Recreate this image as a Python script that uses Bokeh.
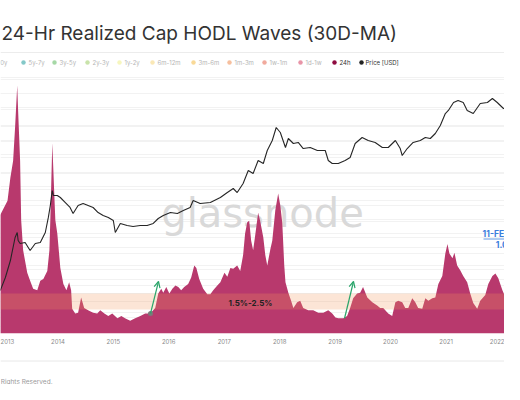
import pandas as pd
from bokeh.plotting import figure
from bokeh.layouts import column
from bokeh.models import (Range1d, LogScale, FixedTicker, DatetimeTickFormatter,
                          Grid, Arrow, OpenHead)
from bokeh.core.properties import value
from bokeh.embed import file_html
from bokeh.resources import INLINE

# ---------------- data ----------------
TITLE = "24-Hr Realized Cap HODL Waves (30D-MA)"

legend_labels = ["7y-10y", "5y-7y", "3y-5y", "2y-3y", "1y-2y", "6m-12m", "3m-6m",
                 "1m-3m", "1w-1m", "1d-1w", "24h", "Price [USD]"]
legend_colors = ["#3b6fb0", "#1f9a9a", "#5cb85c", "#9ccc65", "#eeee88", "#f6d57a",
                 "#f4b942", "#ef8b4f", "#e5654d", "#d63c5e", "#8e0b3f", "#222222"]
legend_active = [False] * 10 + [True, True]

year_ticks = list(range(2013, 2023))

band_low = 1.5
band_high = 2.5

wave_dates = [
    "2012-12-17", "2013-02-03", "2013-02-22", "2013-03-12", "2013-03-25", "2013-04-08", "2013-04-14",
    "2013-04-27", "2013-05-04", "2013-05-17", "2013-06-13", "2013-07-02", "2013-07-22", "2013-08-18",
    "2013-09-07", "2013-09-27", "2013-10-23", "2013-11-06", "2013-11-12", "2013-11-25", "2013-12-08",
    "2013-12-15", "2013-12-28",
    "2014-01-17", "2014-02-06", "2014-02-26", "2014-03-16", "2014-03-29", "2014-04-05", "2014-04-25",
    "2014-05-14", "2014-06-03", "2014-06-23", "2014-07-19", "2014-08-21", "2014-09-17", "2014-10-07",
    "2014-11-03", "2014-11-29", "2014-12-25",
    "2015-01-28", "2015-02-23", "2015-03-19", "2015-04-22", "2015-05-25", "2015-06-28", "2015-07-30",
    "2015-09-01", "2015-10-04", "2015-10-24", "2015-11-13", "2015-11-26", "2015-12-16",
    "2016-01-05", "2016-01-25", "2016-02-14", "2016-03-04", "2016-03-23", "2016-04-12", "2016-05-08",
    "2016-05-28", "2016-06-17", "2016-07-01", "2016-07-20", "2016-08-15", "2016-09-11", "2016-10-01",
    "2016-10-20", "2016-11-16", "2016-12-06",
    "2017-01-02", "2017-01-21", "2017-02-10", "2017-03-01", "2017-03-27", "2017-04-16", "2017-05-05",
    "2017-05-18", "2017-06-01", "2017-06-14", "2017-06-27", "2017-07-10", "2017-07-23", "2017-08-12",
    "2017-08-25", "2017-09-15", "2017-09-28", "2017-10-11", "2017-11-01", "2017-11-13", "2017-12-03",
    "2017-12-22",
    "2018-01-05", "2018-01-18", "2018-01-31", "2018-02-08", "2018-02-27", "2018-03-17", "2018-04-01",
    "2018-04-26", "2018-05-16", "2018-06-05", "2018-07-08", "2018-08-10", "2018-09-12", "2018-10-15",
    "2018-11-17", "2018-12-13",
    "2019-01-03", "2019-01-22", "2019-02-24", "2019-03-21", "2019-04-10", "2019-04-30", "2019-05-26",
    "2019-06-15", "2019-07-04", "2019-08-01", "2019-09-03", "2019-10-05", "2019-10-25", "2019-11-14",
    "2019-12-17",
    "2020-01-12", "2020-02-02", "2020-02-21", "2020-03-18", "2020-04-07", "2020-04-27", "2020-05-23",
    "2020-06-12", "2020-07-01", "2020-07-28", "2020-08-17", "2020-09-06", "2020-10-02", "2020-10-22",
    "2020-11-11", "2020-12-07", "2020-12-27",
    "2021-01-10", "2021-01-23", "2021-02-12", "2021-02-25", "2021-03-15", "2021-04-04", "2021-04-24",
    "2021-05-20", "2021-06-09", "2021-06-29", "2021-07-25", "2021-08-14", "2021-09-16", "2021-10-06",
    "2021-11-02", "2021-11-22", "2021-12-11",
    "2022-01-07", "2022-01-27", "2022-02-28", "2022-04-01", "2022-05-04",
]
wave_24h_pct = [
    7.4, 8.3, 9.75, 10.8, 12.9, 15.5, 13.9, 10.8, 7.1, 5.2, 3.8, 3.3, 2.8, 2.7, 3.3, 3.4, 3.9, 5.2, 7.1,
    11.9, 8.75, 7.1, 6.25,
    4.1, 3.1, 2.7, 3.2, 2.7, 1.55, 1.25, 1.3, 2.25, 1.6, 1.45, 1.3, 1.25, 1.45, 1.25, 1.1, 1.25,
    0.95, 1.1, 0.95, 0.8, 0.95, 1.1, 1.25, 1.25, 1.6, 2.5, 2.8, 2.55, 2.9,
    2.5, 2.8, 3.0, 2.9, 2.7, 2.9, 3.1, 3.5, 4.25, 4.1, 3.4, 2.8, 2.45, 2.45, 2.7, 3.0, 3.2,
    3.8, 3.55, 4.1, 4.05, 4.25, 3.9, 4.9, 6.25, 6.95, 7.05, 5.8, 5.2, 6.1, 7.55, 7.05, 6.0, 4.9, 4.25,
    5.3, 5.8, 7.7, 8.75,
    8.0, 6.9, 4.25, 3.2, 2.55, 2.05, 1.6, 1.95, 2.05, 1.6, 1.45, 1.45, 1.3, 1.3, 1.45, 1.25,
    1.0, 0.95, 0.95, 1.1, 1.6, 2.2, 2.5, 2.55, 2.9, 2.25, 1.95, 1.75, 1.6, 1.6, 1.25,
    1.1, 1.95, 2.05, 1.95, 1.6, 1.6, 2.2, 1.95, 1.6, 1.55, 2.2, 2.05, 2.2, 2.25, 3.1, 3.6, 5.0,
    5.6, 5.0, 4.7, 5.05, 4.25, 3.95, 3.6, 3.2, 2.5, 1.9, 1.55, 2.05, 2.4, 3.1, 3.6, 3.75, 3.45,
    2.7, 2.25, 2.4, 2.7, 2.4,
]

price_dates = [
    "2012-12-17", "2013-01-20", "2013-02-22", "2013-03-25", "2013-04-08", "2013-04-14", "2013-04-27",
    "2013-05-30", "2013-07-02", "2013-08-05", "2013-09-07", "2013-10-10", "2013-10-30", "2013-11-12",
    "2013-11-25", "2013-12-02", "2013-12-28",
    "2014-01-17", "2014-02-19", "2014-03-22", "2014-04-11", "2014-05-14", "2014-06-16", "2014-07-19",
    "2014-08-21", "2014-09-23", "2014-10-26", "2014-11-29",
    "2015-01-01", "2015-01-14", "2015-02-16", "2015-04-02", "2015-05-11", "2015-06-27", "2015-08-12",
    "2015-09-21", "2015-10-24", "2015-11-26",
    "2016-01-12", "2016-02-27", "2016-04-06", "2016-05-21", "2016-06-10", "2016-07-26", "2016-10-01",
    "2016-12-06",
    "2017-01-21", "2017-03-01", "2017-03-27", "2017-05-05", "2017-06-08", "2017-07-10", "2017-08-12",
    "2017-09-15", "2017-10-11", "2017-11-13", "2017-12-09",
    "2018-01-05", "2018-02-08", "2018-02-27", "2018-04-01", "2018-05-03", "2018-06-05", "2018-07-21",
    "2018-09-06", "2018-10-28", "2018-11-17", "2018-12-13",
    "2019-01-22", "2019-03-08", "2019-04-10", "2019-05-13", "2019-06-28", "2019-08-07", "2019-09-22",
    "2019-11-08", "2019-12-17",
    "2020-02-02", "2020-03-05", "2020-03-18", "2020-04-20", "2020-05-29", "2020-07-15", "2020-08-17",
    "2020-09-19", "2020-10-22", "2020-11-24", "2020-12-27",
    "2021-01-16", "2021-02-19", "2021-03-21", "2021-04-24", "2021-05-20", "2021-06-29", "2021-08-14",
    "2021-09-30", "2021-11-02", "2021-12-04",
    "2022-01-14", "2022-02-28", "2022-04-15", "2022-05-04",
]
price_usd = [
    5.9, 11.3, 26.2, 81.9, 105, 70.6, 60.8, 64, 43, 60.8, 64, 105, 221, 400, 840, 656, 656,
    594, 463, 362, 269, 400, 441, 400, 362, 282, 244, 221,
    190, 105, 164, 148, 141, 148, 148, 164, 210, 244,
    282, 269, 312, 362, 512, 441, 463, 594,
    760, 927, 760, 1188, 2260, 1950, 3707, 3200, 6080, 9980, 19000,
    14830, 7060, 11020, 8610, 9060, 6710, 7060, 6080, 6080, 3707, 3200,
    3200, 3707, 4300, 8610, 11590, 9980, 9060, 7060, 7060,
    9980, 6710, 4750, 6710, 9060, 9980, 11590, 11020, 14130, 21000, 38000,
    44200, 65600, 72400, 65600, 44200, 38000, 62400, 65600, 80000, 65600,
    48700, 48700, 51200, 40000,
]

annot_date = "11-FEB-2023"
annot_value = "1.04%"

# ---------------- styles / layout ----------------
FONT = value("Inter")
W = 504
AREA = "#b8396d"
BAND = "#f4965a"
GREEN = "#2aa56a"
BLUE = "#3b7ddd"
legend_dot_x = [-17, 23, 54, 87, 119, 152, 193, 229, 264, 300, 334, 361]


def bare(fig):
    fig.outline_line_color = None
    fig.xgrid.visible = False
    fig.ygrid.visible = False
    return fig


# ---- header (title + legend) ----
top = bare(figure(width=W, height=72, x_range=Range1d(0, W), y_range=Range1d(72, 0),
                  x_axis_location=None, y_axis_location=None, output_backend="svg",
                  toolbar_location=None, min_border=0))
top.text(x=[1], y=[33], text=[TITLE], text_font=FONT, text_font_size="19px",
         text_color="#333333", text_baseline="alphabetic", text_align="left")
top.segment(x0=[0], y0=[52], x1=[W], y1=[52], line_color="#ececec", line_width=1)
top.scatter(x=legend_dot_x, y=[62] * len(legend_labels), size=4.5, color=legend_colors,
            alpha=[1.0 if a else 0.55 for a in legend_active], line_color=None)
top.text(x=[d + (4 if i == len(legend_dot_x) - 1 else 5) for i, d in enumerate(legend_dot_x)],
         y=[62] * len(legend_labels), text=legend_labels, text_font=FONT, text_font_size="6px",
         text_baseline="middle", text_align="left",
         text_color=["#333333" if a else "#b5b5b5" for a in legend_active])

# ---- chart ----
t2013 = pd.Timestamp("2013-01-01").value / 1e6
t2022 = pd.Timestamp("2022-01-01").value / 1e6
ms_per_px = (t2022 - t2013) / (501 - 2)
x_start = t2013 + (0 - 2) * ms_per_px
x_end = t2013 + (W - 2) * ms_per_px

chart = bare(figure(width=W, height=280, x_axis_type="datetime",
                    x_range=Range1d(x_start, x_end), y_range=Range1d(0, 261 / 16),
                    y_axis_location=None, output_backend="svg", toolbar_location=None,
                    min_border_left=0, min_border_right=0, min_border_top=0,
                    min_border_bottom=19))
chart.extra_y_ranges = {"price": Range1d(10 ** (4.279 - 206 / 46.5), 10 ** (4.279 + 55 / 46.5)),
                        "py": Range1d(333, 72)}
chart.extra_y_scales = {"price": LogScale()}
chart.extra_x_ranges = {"px": Range1d(0, W)}

chart.add_layout(Grid(dimension=1, ticker=FixedTicker(ticks=list(range(1, 17))),
                      grid_line_color="#f2f2f2"))
chart.add_layout(Grid(dimension=1, y_range_name="price",
                      ticker=FixedTicker(ticks=[m * 10 ** k for k in range(0, 6) for m in (1, 2, 5)]),
                      grid_line_color="#f2f2f2"))

# watermark
chart.text(x=[262], y=[212], text=["glassnode"], x_range_name="px", y_range_name="py",
           text_font=value("DejaVu Sans"), text_font_size="40px", text_color="#d9d9d9",
           text_align="center", text_baseline="alphabetic")

wave_dt = pd.to_datetime(wave_dates)
price_dt = pd.to_datetime(price_dates)

chart.varea(x=wave_dt, y1=0, y2=wave_24h_pct, fill_color=AREA)
chart.quad(left=[0], right=[W], bottom=[band_low], top=[band_high], x_range_name="px",
           fill_color=BAND, fill_alpha=0.25, line_color=None)
chart.line(x=price_dt, y=price_usd, y_range_name="price", line_color="#262626", line_width=1.1)

chart.text(x=[250], y=[302], text=[f"{band_low}%-{band_high}%"], x_range_name="px",
           y_range_name="py", text_font=FONT, text_font_size="8px", text_font_style="bold",
           text_color="#222222", text_align="center", text_baseline="middle")

# right-hand annotation
chart.text(x=[508.5, 508.5], y=[233, 244], text=[annot_date, annot_value],
           x_range_name="px", y_range_name="py", text_font=FONT, text_font_size="8.5px",
           text_font_style="bold", text_color=BLUE, text_align="center", text_baseline="middle")
chart.segment(x0=[483], y0=[238.5], x1=[534], y1=[238.5], x_range_name="px", y_range_name="py",
              line_color=BLUE, line_width=0.8)

# arrows
chart.scatter(x=[150], y=[313], x_range_name="px", y_range_name="py", size=5,
              color="#7a7a7a", line_color=None)
for xs, ys, xe, ye in [(150, 313, 158, 281), (344, 318, 353, 281)]:
    chart.add_layout(Arrow(x_start=xs, y_start=ys, x_end=xe, y_end=ye,
                           x_range_name="px", y_range_name="py",
                           line_color=GREEN, line_width=1.2,
                           end=OpenHead(size=6, line_color=GREEN, line_width=1.2)))

chart.xaxis.ticker = FixedTicker(ticks=[pd.Timestamp(f"{y}-01-01").value / 1e6 for y in year_ticks])
chart.xaxis.formatter = DatetimeTickFormatter(years="%Y", months="%Y", days="%Y")
chart.xaxis.axis_line_color = None
chart.xaxis.major_tick_line_color = None
chart.xaxis.minor_tick_line_color = None
chart.xaxis.major_tick_out = 0
chart.xaxis.major_tick_in = 0
chart.xaxis.minor_tick_out = 0
chart.xaxis.minor_tick_in = 0
chart.xaxis.major_label_standoff = 5
chart.xaxis.major_label_text_font = "Inter"
chart.xaxis.major_label_text_font_size = "6px"
chart.xaxis.major_label_text_color = "#8a8a8a"

# ---- footer ----
foot = bare(figure(width=W, height=32, x_range=Range1d(0, W), y_range=Range1d(384, 352),
                   x_axis_location=None, y_axis_location=None, output_backend="svg",
                   toolbar_location=None, min_border=0))
foot.segment(x0=[0], y0=[360.5], x1=[W], y1=[360.5], line_color="#e8e8e8", line_width=1)
foot.text(x=[52], y=[381], text=["© 2023 Glassnode. All Rights Reserved."], text_font=FONT,
          text_font_size="6.5px", text_color="#9a9a9a", text_align="right", text_baseline="middle")

p = column(top, chart, foot, spacing=0)
open("out.html", "w").write(file_html(p, INLINE))
